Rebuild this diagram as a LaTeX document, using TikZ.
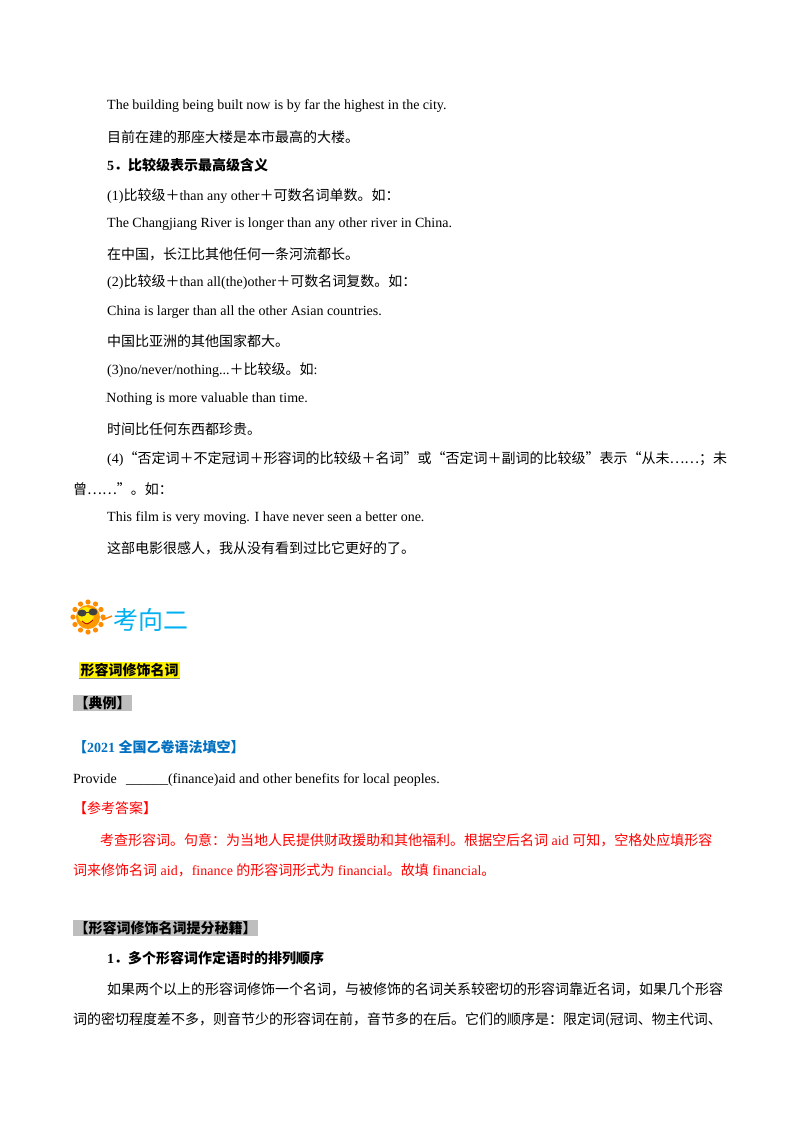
\documentclass[tikz,border=0pt]{standalone}
\usepackage{fontspec}
\usetikzlibrary{calc}
\setmainfont{Liberation Serif}
\newfontfamily\cjk{Noto Sans CJK SC}
\newcommand\zh[1]{{\cjk #1}}
\definecolor{hblue}{RGB}{0,176,240}
\definecolor{dblue}{RGB}{0,112,192}
\definecolor{hgray}{RGB}{190,190,190}
\begin{document}
\begin{tikzpicture}[x=1pt,y=-1pt,
  t/.style={anchor=west,inner sep=0pt,font=\fontsize{14}{16}\selectfont},
  b/.style={t,font=\fontsize{14}{16}\selectfont\bfseries}]
\fill[white] (0,0) rectangle (800,1132);
\useasboundingbox (0,0) rectangle (800,1132);
\node[t] (l1) at (107,106) {The building being built now is by far the highest in the city.};
\node[t] (l2) at (107,137) {\zh{目前在建的那座大楼是本市最高的大楼。}};
\node[b] (l3) at (107,165) {5\zh{．比较级表示最高级含义}};
\node[t] (l4) at (107,196) {(1)\zh{比较级＋}than any other\zh{＋可数名词单数。如：}};
\node[t] (l5) at (107,224) {The Changjiang River is longer than any other river in China.};
\node[t] (l6) at (107,254) {\zh{在中国，长江比其他任何一条河流都长。}};
\node[t] (l7) at (107,282) {(2)\zh{比较级＋}than all(the)other\zh{＋可数名词复数。如：}};
\node[t] (l8) at (107,312) {China is larger than all the other Asian countries.};
\node[t] (l9) at (107,341) {\zh{中国比亚洲的其他国家都大。}};
\node[t] (l10) at (107,370) {(3)no/never/nothing...\zh{＋比较级。如}:};
\node[t] (l11) at (105,399) {{\tiny.}Nothing is more valuable than time.};
\node[t] (l12) at (107,429) {\zh{时间比任何东西都珍贵。}};
\node[t] (l13) at (107,459) {(4)\zh{“否定词＋不定冠词＋形容词的比较级＋名词”或“否定词＋副词的比较级”表示“从未……；未}};
\node[t] (l14) at (73,489) {\zh{曾……”。如：}};
\node[t] (l15) at (107,518) {This film is very moving. I have never seen a better one.};
\node[t] (l16) at (107,548) {\zh{这部电影很感人，我从没有看到过比它更好的了。}};
% sun icon
\foreach \a in {0,30,...,330}
  \fill[orange!90!yellow] ($(88,617)+(\a:15)$) circle (2.6);
\fill[orange!80!yellow] (88,617) circle (12);
\fill[yellow!90!orange] (86,615) circle (8);
\fill[black!75] (82,613) ellipse (4.5 and 3.5);
\fill[black!75] (93,612) ellipse (4.5 and 3.5);
\draw[black!75,line width=1pt] (86,612) -- (89,612);
\draw[red!70!black,line width=0.8pt] (82,621) .. controls (87,625) .. (93,620);
\draw[orange,line width=1.5pt] (102,620) -- (112,616);
\node[anchor=west,inner sep=0pt,text=hblue,font=\fontsize{25}{28}\selectfont\cjk] (h) at (113,620) {考向二};
% highlighted labels
\node[anchor=west,fill=yellow,inner sep=1.5pt,font=\fontsize{14}{16}\selectfont\cjk\bfseries] (k1) at (79,670) {形容词修饰名词};
\draw[hgray!70!black,line width=1pt] (k1.south west) -- (k1.south east);
\node[anchor=west,fill=hgray,inner sep=1.5pt,font=\fontsize{14}{16}\selectfont\cjk\bfseries] (k2) at (73,703) {【典例】};
\node[anchor=west,inner sep=0pt,text=dblue,font=\fontsize{14}{16}\selectfont\bfseries] (k3) at (73,747) {\zh{【}2021 \zh{全国乙卷语法填空】}};
\node[t] (p1) at (73,780) {Provide \ \,\_\_\_\_\_\_(finance)aid and other benefits for local peoples.};
\node[t,text=red] (p2) at (73,808) {\zh{【参考答案】}};
\node[t,text=red] (p3) at (100,840) {\zh{考查形容词。句意：为当地人民提供财政援助和其他福利。根据空后名词} aid \zh{可知，空格处应填形容}};
\node[t,text=red] (p4) at (73,870) {\zh{词来修饰名词} aid\zh{，}finance \zh{的形容词形式为} financial\zh{。故填} financial\zh{。}};
\node[anchor=west,fill=hgray,inner sep=1.5pt,font=\fontsize{14}{16}\selectfont\cjk\bfseries] (k4) at (73,928) {【形容词修饰名词提分秘籍】};
\node[b] (q1) at (107,958) {1\zh{．多个形容词作定语时的排列顺序}};
\node[t] (q2) at (107,989) {\zh{如果两个以上的形容词修饰一个名词，与被修饰的名词关系较密切的形容词靠近名词，如果几个形容}};
\node[t] (q3) at (73,1020) {\zh{词的密切程度差不多，则音节少的形容词在前，音节多的在后。它们的顺序是：限定词(冠词、物主代词、}};
\end{tikzpicture}
\end{document}
